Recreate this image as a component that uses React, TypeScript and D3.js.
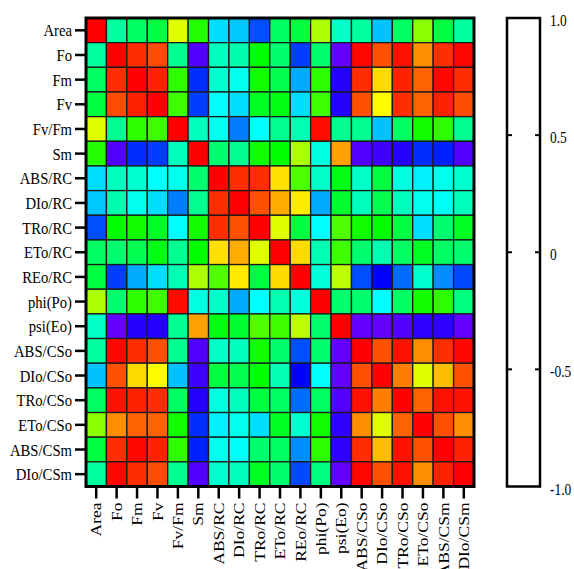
import React from "react";
import * as d3 from "d3";

const labels: string[] = [
  "Area", "Fo", "Fm", "Fv", "Fv/Fm", "Sm", "ABS/RC", "DIo/RC", "TRo/RC", "ETo/RC",
  "REo/RC", "phi(Po)", "psi(Eo)", "ABS/CSo", "DIo/CSo", "TRo/CSo", "ETo/CSo", "ABS/CSm", "DIo/CSm",
];

const rArea = [1, -0.17, -0.06, 0.0, 0.5, 0.17, -0.39, -0.43, -0.64, -0.06, 0.0, 0.41, -0.24, -0.17, -0.44, -0.06, 0.35, 0.0, -0.17];
const rFo = [-0.17, 1, 0.92, 0.87, -0.14, -0.92, -0.22, -0.19, 0.11, -0.08, -0.67, -0.08, -0.95, 0.99, 0.86, 0.97, 0.75, 0.92, 0.99];
const rFm = [-0.06, 0.92, 1, 0.94, 0.19, -0.7, -0.25, -0.3, 0.14, -0.03, -0.48, 0.19, -0.84, 0.92, 0.62, 0.94, 0.83, 0.99, 0.92];
const rFv = [0.0, 0.87, 0.94, 1, 0.22, -0.67, -0.33, -0.39, 0.05, 0.08, -0.39, 0.22, -0.84, 0.86, 0.56, 0.92, 0.83, 0.94, 0.87];
const rFvFm = [0.5, -0.14, 0.19, 0.22, 1, -0.22, -0.3, -0.56, -0.33, -0.14, -0.2, 0.98, -0.14, -0.14, -0.44, -0.06, 0.14, 0.19, -0.14];
const rSm = [0.17, -0.92, -0.7, -0.67, -0.22, 1, -0.08, -0.14, 0.14, 0.11, 0.41, -0.28, 0.72, -0.92, -0.89, -0.84, -0.7, -0.72, -0.92];
const rABSRC = [-0.39, -0.22, -0.25, -0.33, -0.3, -0.08, 1, 0.92, 0.92, 0.61, 0.25, -0.24, 0.08, -0.24, 0.0, -0.28, -0.36, -0.3, -0.25];
const rDIoRC = [-0.43, -0.19, -0.3, -0.39, -0.56, -0.14, 0.92, 1, 0.86, 0.7, 0.59, -0.48, 0.03, -0.22, -0.03, -0.22, -0.3, -0.32, -0.22];
const rTRoRC = [-0.64, 0.11, 0.14, 0.05, -0.33, 0.14, 0.92, 0.86, 1, 0.5, 0.0, -0.33, 0.25, 0.14, 0.11, 0.0, -0.39, -0.08, 0.05];
const rEToRC = [-0.06, -0.08, -0.03, 0.08, -0.14, 0.11, 0.61, 0.7, 0.5, 1, 0.62, -0.2, 0.22, -0.08, -0.2, -0.06, 0.05, -0.06, -0.08];
const rREoRC = [0.0, -0.67, -0.48, -0.39, -0.2, 0.41, 0.25, 0.59, 0.0, 0.62, 1, -0.27, 0.44, -0.64, -0.78, -0.59, -0.25, -0.53, -0.65];
const rPhiPo = [0.41, -0.08, 0.19, 0.22, 0.98, -0.28, -0.24, -0.48, -0.33, -0.2, -0.27, 1, -0.08, -0.08, -0.33, -0.06, 0.14, 0.19, -0.11];
const rPsiEo = [-0.24, -0.95, -0.84, -0.84, -0.14, 0.72, 0.08, 0.03, 0.25, 0.22, 0.44, -0.08, 1, -0.95, -0.95, -0.92, -0.86, -0.86, -0.95];
const rABSCSo = [-0.17, 0.99, 0.92, 0.86, -0.14, -0.92, -0.24, -0.22, 0.14, -0.08, -0.64, -0.08, -0.95, 1, 0.86, 0.97, 0.75, 0.92, 0.99];
const rDIoCSo = [-0.44, 0.86, 0.62, 0.56, -0.44, -0.89, 0.0, -0.03, 0.11, -0.2, -0.78, -0.33, -0.95, 0.86, 1, 0.78, 0.5, 0.67, 0.86];
const rTRoCSo = [-0.06, 0.97, 0.94, 0.92, -0.06, -0.84, -0.28, -0.22, 0.0, -0.06, -0.59, -0.06, -0.92, 0.97, 0.78, 1, 0.83, 0.97, 0.97];
const rEToCSo = [0.35, 0.75, 0.83, 0.83, 0.14, -0.7, -0.36, -0.3, -0.39, 0.05, -0.25, 0.14, -0.86, 0.75, 0.5, 0.83, 1, 0.86, 0.75];
const rABSCSm = [0.0, 0.92, 0.99, 0.94, 0.19, -0.72, -0.3, -0.32, -0.08, -0.06, -0.53, 0.19, -0.86, 0.92, 0.67, 0.97, 0.86, 1, 0.94];
const rDIoCSm = [-0.17, 0.99, 0.92, 0.87, -0.14, -0.92, -0.25, -0.22, 0.05, -0.08, -0.65, -0.11, -0.95, 0.99, 0.86, 0.97, 0.75, 0.94, 1];

const matrix: number[][] = [
  rArea, rFo, rFm, rFv, rFvFm, rSm, rABSRC, rDIoRC, rTRoRC, rEToRC,
  rREoRC, rPhiPo, rPsiEo, rABSCSo, rDIoCSo, rTRoCSo, rEToCSo, rABSCSm, rDIoCSm,
];

const colorbarTicks: number[] = [1, 0.5, 0, -0.5, -1];
const colorbarTickLabels: string[] = ["1.0", "0.5", "0", "-0.5", "-1.0"];

const W = 574;
const H = 569;
const left = 86;
const right = 474;
const top = 18;
const bottom = 486.5;
const cbLeft = 507;
const cbRight = 540;
const SX = 0.84;

export default function App() {
  const x = d3.scaleBand<string>().domain(labels).range([left, right]);
  const y = d3.scaleBand<string>().domain(labels).range([top, bottom]);
  const hue = d3.scaleLinear().domain([1, -1]).range([0, 270]);
  const color = (v: number) => d3.hsl(hue(v), 1, 0.5).formatHex();
  const cbY = d3.scaleLinear().domain([1, -1]).range([top, bottom]);
  const font = "'Liberation Serif', 'Times New Roman', serif";

  const cells: React.ReactNode[] = [];
  matrix.forEach((row, i) => {
    row.forEach((v, j) => {
      cells.push(
        <rect
          key={`c${i}-${j}`}
          x={x(labels[j])}
          y={y(labels[i])}
          width={x.bandwidth()}
          height={y.bandwidth()}
          fill={color(v)}
          stroke="#1a1a1a"
          strokeWidth={1.3}
        />
      );
    });
  });

  return (
    <svg
      width={W}
      height={H}
      style={{ position: "absolute", left: 0, top: 0, background: "#fff" }}
      fontFamily={font}
    >
      <rect x={0} y={0} width={W} height={H} fill="#fff" />
      {cells}
      <rect x={left} y={top} width={right - left} height={bottom - top} fill="none" stroke="#000" strokeWidth={3} />
      {labels.map((l) => {
        const cy = (y(l) as number) + y.bandwidth() / 2;
        return (
          <g key={`yl-${l}`}>
            <line x1={left - 11} x2={left} y1={cy} y2={cy} stroke="#000" strokeWidth={2.5} />
            <text
              transform={`translate(${left - 14},${cy}) scale(${SX},1)`}
              textAnchor="end"
              dy="0.35em"
              fontSize={17.5}
              fill="#000"
            >
              {l}
            </text>
          </g>
        );
      })}
      {labels.map((l) => {
        const cx = (x(l) as number) + x.bandwidth() / 2;
        return (
          <g key={`xl-${l}`}>
            <line x1={cx} x2={cx} y1={bottom} y2={bottom + 12} stroke="#000" strokeWidth={2.5} />
            <text
              transform={`translate(${cx},${bottom + 16}) scale(${SX},1) rotate(-90)`}
              textAnchor="end"
              dy="0.35em"
              fontSize={17.5}
              fill="#000"
            >
              {l}
            </text>
          </g>
        );
      })}
      <rect x={cbLeft} y={top} width={cbRight - cbLeft} height={bottom - top} fill="#fff" stroke="#000" strokeWidth={2.5} />
      {colorbarTicks.map((t, k) => {
        const ty = cbY(t);
        const inner = t !== 1 && t !== -1;
        return (
          <g key={`cb-${k}`}>
            {inner && <line x1={cbLeft} x2={cbLeft + 5} y1={ty} y2={ty} stroke="#000" strokeWidth={2} />}
            {inner && <line x1={cbRight - 5} x2={cbRight} y1={ty} y2={ty} stroke="#000" strokeWidth={2} />}
            <text
              transform={`translate(550,${ty + 8}) scale(${SX},1)`}
              fontSize={16}
              fill="#000"
            >
              {colorbarTickLabels[k]}
            </text>
          </g>
        );
      })}
    </svg>
  );
}
